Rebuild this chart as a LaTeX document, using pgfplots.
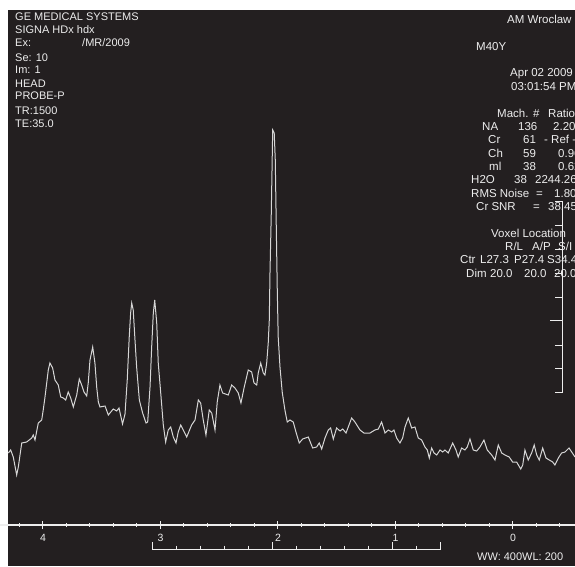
\documentclass[border=0pt]{standalone}
\usepackage{fontspec}
\setmainfont{Liberation Sans}
\usepackage{pgfplots}
\usepackage{pgfplotstable}
\pgfplotsset{compat=1.18}
\definecolor{bg}{HTML}{231F20}
\definecolor{fg}{HTML}{EDEDED}
\definecolor{trace}{HTML}{D6D6D6}

\pgfplotstableread{
ppm int
4.295 72
4.275 75
4.253 68
4.224 50
4.210 58
4.181 82
4.139 83
4.096 87
4.083 90
4.068 85
4.040 102
4.011 105
3.998 115
3.983 128
3.955 155
3.941 162
3.918 157
3.898 145
3.870 140
3.849 128
3.827 127
3.807 125
3.785 133
3.764 127
3.742 118
3.713 130
3.691 146
3.671 140
3.651 133
3.628 129
3.615 142
3.600 165
3.577 178
3.558 162
3.543 138
3.529 123
3.515 118
3.472 119
3.444 110
3.402 116
3.373 114
3.353 117
3.323 101
3.302 111
3.283 145
3.266 188
3.254 212
3.245 222
3.232 215
3.217 185
3.203 158
3.180 125
3.152 112
3.123 102
3.109 103
3.089 138
3.075 178
3.061 212
3.049 225
3.032 202
3.019 162
2.998 132
2.976 100
2.956 83
2.934 95
2.913 98
2.891 88
2.868 82
2.849 93
2.828 100
2.806 95
2.777 88
2.735 100
2.706 105
2.678 125
2.658 122
2.636 105
2.613 90
2.585 115
2.564 112
2.536 95
2.517 123
2.494 140
2.471 132
2.423 130
2.394 140
2.366 137
2.338 132
2.315 122
2.289 137
2.253 155
2.224 153
2.204 142
2.181 140
2.168 152
2.147 162
2.125 152
2.111 150
2.096 162
2.083 182
2.074 205
2.068 252
2.057 312
2.045 395
2.032 392
2.023 365
2.015 302
2.006 235
1.998 188
1.983 158
1.964 133
1.941 115
1.921 103
1.898 105
1.870 103
1.847 93
1.819 82
1.790 86
1.742 88
1.705 77
1.671 78
1.649 82
1.628 76
1.600 87
1.572 95
1.552 97
1.529 86
1.501 97
1.472 94
1.449 96
1.421 92
1.373 107
1.345 103
1.302 95
1.268 92
1.217 92
1.175 95
1.146 96
1.118 103
1.089 92
1.061 95
1.032 93
1.013 95
0.990 87
0.962 82
0.939 87
0.919 98
0.891 107
0.862 97
0.834 98
0.806 87
0.777 85
0.749 78
0.729 75
0.712 67
0.692 77
0.672 72
0.649 70
0.621 75
0.598 73
0.579 75
0.551 72
0.513 82
0.485 75
0.466 68
0.437 77
0.409 75
0.389 78
0.366 86
0.338 75
0.309 74
0.281 78
0.247 85
0.219 75
0.181 70
0.153 65
0.125 80
0.096 72
0.068 70
0.032 68
0.003 63
-0.031 63
-0.066 56
-0.083 60
-0.102 75
-0.130 65
-0.159 72
-0.181 80
-0.202 70
-0.224 65
-0.253 77
-0.281 67
-0.309 65
-0.338 63
-0.357 60
-0.386 67
-0.414 72
-0.443 73
-0.477 77
-0.500 73
-0.528 68
}\spectrum

\begin{document}
\begin{tikzpicture}
\useasboundingbox (0pt,525pt) rectangle (575pt,-41pt);
\clip (0pt,525pt) rectangle (575pt,-41pt);
\begin{scope}[shift={(0pt,525pt)}, x=1pt, y=-1pt,
  t/.style={anchor=base west, inner sep=0pt, text=fg, font=\fontsize{11}{12}\selectfont},
  r/.style={anchor=base west, inner sep=0pt, text=fg, font=\fontsize{11.5}{12}\selectfont}]
\fill[white] (0,0) rectangle (575,566);
\fill[bg] (8,10) rectangle (575,566);
% left header
\node[t] at (15,21) {GE MEDICAL SYSTEMS};
\node[t] at (15,34) {SIGNA HDx hdx};
\node[t] at (15,47) {Ex:};
\node[t] at (82,47) {/MR/2009};
\node[t] at (15,61) {Se: 10};
\node[t] at (15,74) {Im: 1};
\node[t] at (15,87) {HEAD};
\node[t] at (15,100) {PROBE-P};
\node[t] at (15,114) {TR:1500};
\node[t] at (15,127) {TE:35.0};
% right header
\node[r] at (507,24) {AM Wroclaw};
\node[r] at (476,50.6) {M40Y};
\node[r] at (510,77) {Apr 02 2009};
\node[r] at (511,90.5) {03:01:54 PM};
\node[r] at (497,117) {Mach.};
\node[r] at (533,117) {\#};
\node[r] at (548,117) {Ratio};
\node[r] at (482,130.4) {NA};
\node[r] at (518,130.4) {136};
\node[r] at (553,130.4) {2.20};
\node[r] at (488,143.7) {Cr};
\node[r] at (523,143.7) {61};
\node[r] at (544,143.7) {- Ref -};
\node[r] at (488,157) {Ch};
\node[r] at (523,157) {59};
\node[r] at (558,157) {0.96};
\node[r] at (489,170.3) {ml};
\node[r] at (523,170.3) {38};
\node[r] at (558,170.3) {0.62};
\node[r] at (471,183.6) {H2O};
\node[r] at (514,183.6) {38};
\node[r] at (535,183.6) {2244.26};
\node[r] at (471,197) {RMS Noise};
\node[r] at (536,197) {=};
\node[r] at (554,197) {1.80};
\node[r] at (476,210.3) {Cr SNR};
\node[r] at (533,210.3) {=};
\node[r] at (548,210.3) {38.45};
\node[r] at (491,237) {Voxel Location};
\node[r] at (505,250.3) {R/L};
\node[r] at (532,250.3) {A/P};
\node[r] at (558,250.3) {S/I};
\node[r] at (460,263.6) {Ctr};
\node[r] at (480,263.6) {L27.3};
\node[r] at (514,263.6) {P27.4};
\node[r] at (547,263.6) {S34.4};
\node[r] at (466,277) {Dim};
\node[r] at (490,277) {20.0};
\node[r] at (524,277) {20.0};
\node[r] at (554,277) {20.0};
% vertical scale
\draw[fg, line width=1pt] (555,201) -- (562,201) -- (562,392) -- (555,392);
\foreach \yy in {225,249,273,297,345,368} \draw[fg, line width=1pt] (555,\yy) -- (562,\yy);
\draw[fg, line width=1pt] (550,320) -- (562,320);
% bottom scale
\draw[fg, line width=1pt] (152,542) -- (152,549) -- (440,549) -- (440,542);
\foreach \xx in {272,392} \draw[fg, line width=1pt] (\xx,542) -- (\xx,549);
\foreach \xx in {176,200,224,248,296,320,344,368,416} \draw[fg, line width=1pt] (\xx,545.5) -- (\xx,549);
\node[t] at (477,560) {WW: 400WL: 200};
\end{scope}
\begin{axis}[
  scale only axis, width=575pt, height=525pt,
  xmin=-0.528, xmax=4.366, ymin=0, ymax=525,
  x dir=reverse,
  axis x line*=bottom, axis y line=none,
  x axis line style={fg, line width=1.6pt, -},
  xtick={0,1,2,3,4},
  minor xtick={-0.4,-0.2,0.2,0.4,0.6,0.8,1.2,1.4,1.6,1.8,2.2,2.4,2.6,2.8,3.2,3.4,3.6,3.8,4.2},
  tick align=center,
  major tick length=8pt, minor tick length=4pt,
  tick style={fg, line width=1pt},
  xticklabel style={text=fg, font=\fontsize{10.5}{12}\selectfont, yshift=-2pt},
  /pgf/number format/assume math mode=true,
]
\addplot[trace, line width=1pt] table[x=ppm, y=int] {\spectrum};
\end{axis}
\end{tikzpicture}
\end{document}
